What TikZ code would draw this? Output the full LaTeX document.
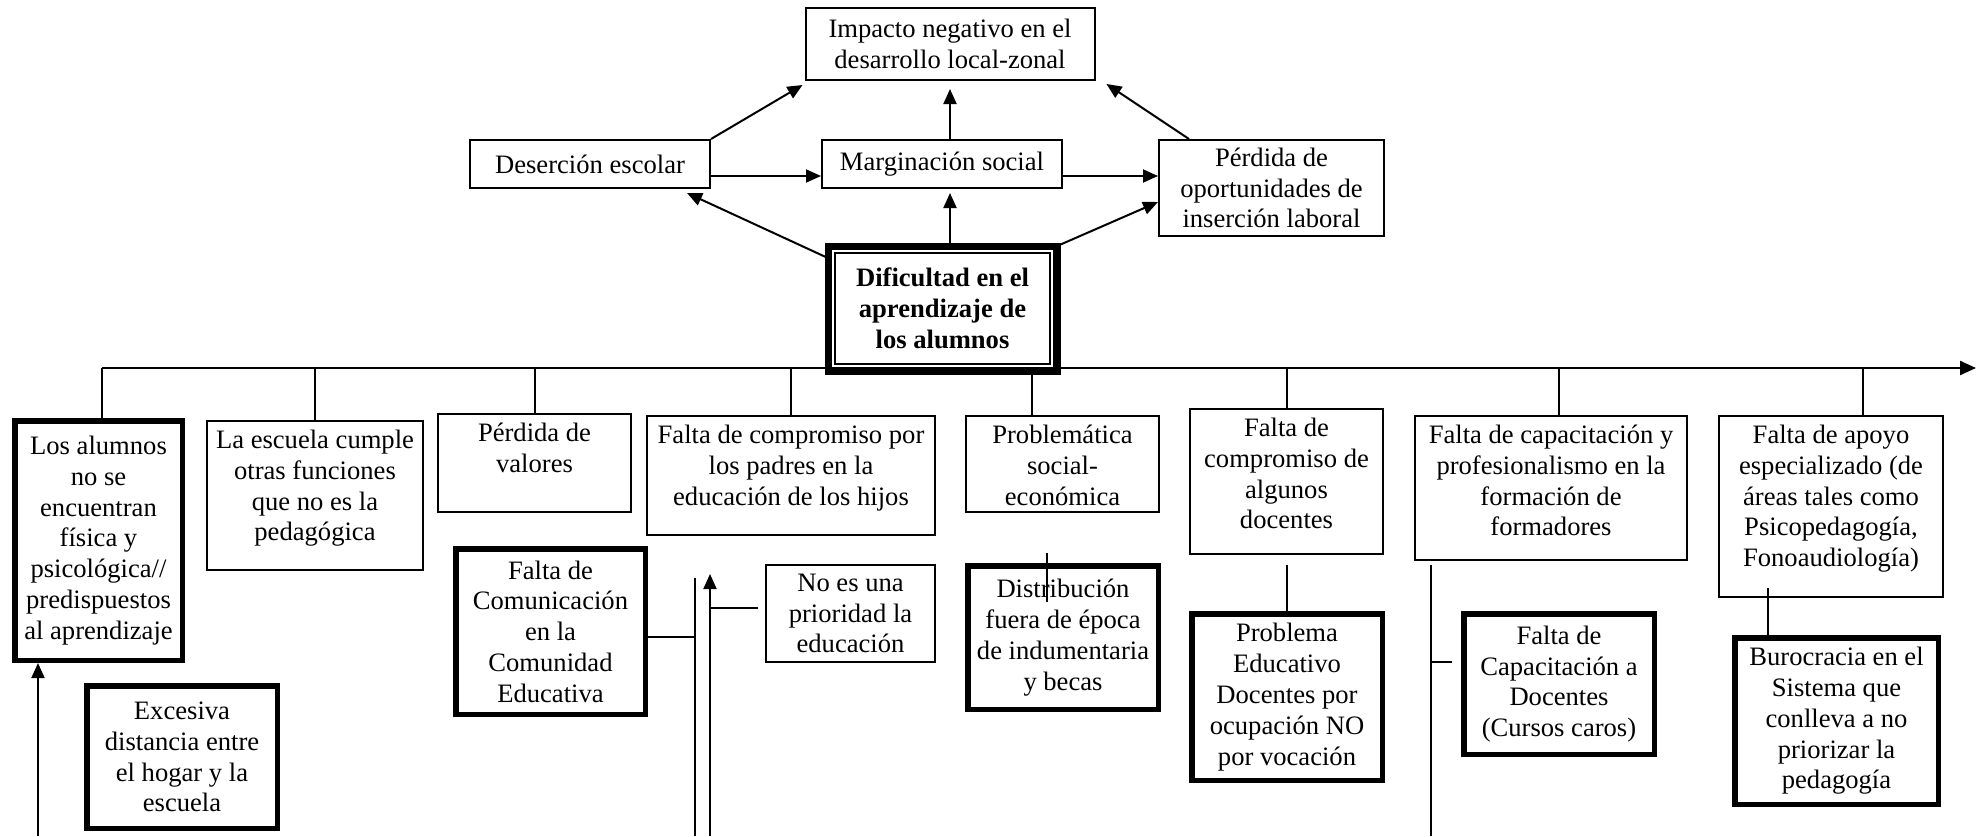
\documentclass[tikz,border=0pt]{standalone}
\usepackage{fontspec}
\setmainfont{Liberation Serif}
\usepackage{tikz}
\usetikzlibrary{arrows.meta}

\begin{document}
\begin{tikzpicture}[x=0.5pt,y=-0.5pt,
	caja/.style={draw,line width=1pt,inner sep=0pt,font=\fontsize{13.3}{15.4}\selectfont},
	cajacentro/.style={caja,align=center},
	cajagruesa/.style={caja,align=center,line width=2.75pt},
	flecha/.style={-{Triangle[length=7.5pt,width=6.5pt]},line width=1pt},
	linea/.style={line width=1pt}]

	\def\arriba#1#2#3{\parbox[c][#2][t]{#1}{\centering\vspace*{3pt}\strut #3}}

	\useasboundingbox (0,0) rectangle (1980,836);

	\node[cajacentro,minimum width=144.5pt,minimum height=36pt] (impacto) at (950,44) {Impacto negativo en el\\desarrollo local-zonal};
	\node[cajacentro,minimum width=120pt,minimum height=24pt] (desercion) at (590,164) {Deserción escolar};
	\node[cajacentro,minimum width=120pt,minimum height=24pt] (marginacion) at (942,164) {Marginación social};
	\node[cajacentro,minimum width=112.5pt,minimum height=48pt] (perdida) at (1271.5,188) {Pérdida de\\oportunidades de\\inserción laboral};

	\node[align=center,inner sep=0pt,minimum width=114pt,minimum height=62pt,font=\fontsize{13.3}{15.4}\selectfont\bfseries] (central) at (942.5,308.5) {Dificultad en el\\aprendizaje de\\los alumnos};
	\draw[line width=3.6pt] (central.north west) rectangle (central.south east);
	\draw[line width=0.9pt] ([shift={(3.3pt,-3.3pt)}]central.north west) rectangle ([shift={(-3.3pt,3.3pt)}]central.south east);

	\draw[flecha] (desercion.north east) -- ([shift={(-1pt,-2pt)}]impacto.south west);
	\draw[flecha] (impacto.south |- marginacion.north) -- ([yshift=-4pt]impacto.south);
	\draw[flecha] ([xshift=15.5pt]perdida.north west) -- ([shift={(5.5pt,-1.5pt)}]impacto.south east);
	\path ([yshift=-6pt]desercion.east) coordinate (d1);
	\path ([yshift=-6pt]marginacion.east) coordinate (m1);
	\draw[flecha] (d1) -- (d1 -| marginacion.west);
	\draw[flecha] (m1) -- (m1 -| perdida.west);
	\draw[flecha] ([yshift=-6pt]central.north west) -- ([shift={(-12pt,-2pt)}]desercion.south east);
	\draw[flecha] (impacto.south |- central.north) -- ([yshift=-2pt]impacto.south |- marginacion.south);
	\draw[flecha] (central.north east) -- ([yshift=-7pt]perdida.west);

	\coordinate (ejeA) at (102,368);
	\coordinate (ejeB) at (1976,368);
	\draw[-{Triangle[length=8pt,width=7pt]},line width=1.2pt] (ejeA) -- (ejeB);

	\node[cajagruesa,minimum width=83.75pt,minimum height=119.75pt] (alumnos) at (98.5,540.5) {Los alumnos\\no se\\encuentran\\física y\\psicológica//\\predispuestos\\al aprendizaje};
	\node[caja] (escuela) at (315,495.5) {\arriba{108pt}{74.5pt}{La escuela cumple\\otras funciones\\que no es la\\pedagógica}};
	\node[caja] (valores) at (534.5,463) {\arriba{96.5pt}{49pt}{Pérdida de\\valores}};
	\node[caja] (padres) at (791,475.5) {\arriba{144pt}{59.5pt}{Falta de compromiso por\\los padres en la\\educación de los hijos}};
	\node[caja] (socioeco) at (1062.5,464) {\arriba{96.5pt}{48pt}{Problemática\\social-\\económica}};
	\node[caja] (docentes) at (1286.5,481.5) {\arriba{96.5pt}{72.5pt}{Falta de\\compromiso de\\algunos\\docentes}};
	\node[caja] (formadores) at (1551,488) {\arriba{136pt}{72pt}{Falta de capacitación y\\profesionalismo en la\\formación de\\formadores}};
	\node[caja] (apoyo) at (1831,506.5) {\arriba{112pt}{90.5pt}{Falta de apoyo\\especializado (de\\áreas tales como\\Psicopedagogía,\\Fonoaudiología)}};

	\coordinate (t4) at ([xshift=-15.5pt]socioeco.north);
	\coordinate (t6) at ([xshift=4pt]formadores.north);
	\coordinate (t7) at ([xshift=16pt]apoyo.north);
	\draw[linea] (ejeA) -- (ejeA |- alumnos.north);
	\foreach \n in {escuela,valores,padres,docentes}
		\draw[linea] (\n.north) -- (\n.north |- ejeA);
	\foreach \n in {t4,t6,t7}
		\draw[linea] (\n) -- (\n |- ejeA);

	\node[cajagruesa,minimum width=95.25pt,minimum height=71.25pt] (distancia) at (182,757) {Excesiva\\distancia entre\\el hogar y la\\escuela};
	\node[cajagruesa,minimum width=94.75pt,minimum height=82.75pt] (comunicacion) at (550.5,631.5) {Falta de\\Comunicación\\en la\\Comunidad\\Educativa};
	\node[cajacentro,minimum width=84.5pt,minimum height=48.5pt] (prioridad) at (850.5,613.5) {No es una\\prioridad la\\educación};
	\node[cajagruesa,minimum width=95.25pt,minimum height=71.75pt] (indumentaria) at (1063,637.5) {Distribución\\fuera de época\\de indumentaria\\y becas};
	\node[cajagruesa,minimum width=95.25pt,minimum height=83.25pt] (vocacion) at (1287,697) {Problema\\Educativo\\Docentes por\\ocupación NO\\por vocación};
	\node[cajagruesa,minimum width=95.25pt,minimum height=70.25pt] (cursos) at (1559,684) {Falta de\\Capacitación a\\Docentes\\(Cursos caros)};
	\node[cajagruesa,minimum width=101.75pt,minimum height=83.25pt] (burocracia) at (1836.5,721) {Burocracia en el\\Sistema que\\conlleva a no\\priorizar la\\pedagogía};

	\coordinate (baseA) at (38,836);
	\draw[flecha] (baseA) -- (baseA |- alumnos.south);

	\coordinate (barraC) at (695,578);
	\coordinate (barraCb) at (695,836);
	\coordinate (c1) at ([yshift=-2.75pt]comunicacion.east);
	\draw[linea] (barraC) -- (barraCb);
	\draw[linea] (c1) -- (c1 -| barraC);

	\coordinate (baseP) at (710,836);
	\coordinate (puntaP) at (710,574);
	\coordinate (p1) at ([shift={(-3.5pt,2.75pt)}]prioridad.west);
	\draw[flecha] (baseP) -- (puntaP);
	\draw[linea] (p1) -- (p1 -| baseP);

	\coordinate (i1) at (1047,553);
	\coordinate (i2) at (1047,602);
	\draw[linea] (i1) -- (i2);

	\coordinate (v1) at ([yshift=-5pt]docentes.south);
	\draw[linea] (v1) -- (v1 |- vocacion.north);

	\coordinate (barraF) at (1431,565);
	\coordinate (barraFb) at (1431,836);
	\coordinate (f1) at ([shift={(-4.4pt,11pt)}]cursos.west);
	\draw[linea] (barraF) -- (barraFb);
	\draw[linea] (f1) -- (f1 -| barraF);

	\coordinate (b1) at (1768,588);
	\draw[linea] (b1) -- (b1 |- burocracia.north);
\end{tikzpicture}
\end{document}
